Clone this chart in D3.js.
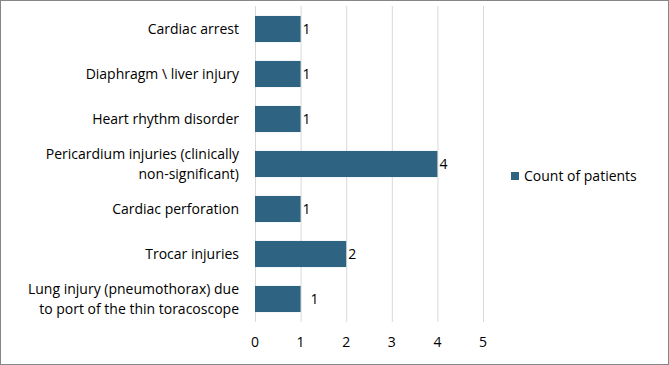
<!DOCTYPE html>
<html><head><meta charset="utf-8">
<script src="https://cdn.jsdelivr.net/npm/d3@7"></script>
<style>body{margin:0;background:#fff}svg{display:block}text{font-family:"Open Sans",sans-serif}</style>
</head><body><svg id="c" width="669" height="365"></svg>
<script>
const categories = [
  ["Cardiac arrest"],
  ["Diaphragm \\ liver injury"],
  ["Heart rhythm disorder"],
  ["Pericardium injuries (clinically","non-significant)"],
  ["Cardiac perforation"],
  ["Trocar injuries"],
  ["Lung injury (pneumothorax) due","to port of the thin toracoscope"]
];
const values = [1,1,1,4,1,2,1];
const xTicks = [0,1,2,3,4,5];
const seriesName = "Count of patients";

const svg = d3.select("#c");
const fs = 14;
svg.append("rect").attr("x",0.5).attr("y",0.5).attr("width",668).attr("height",364)
  .attr("fill","#fff").attr("stroke","#868686");

const x = d3.scaleLinear().domain([0,5]).range([255,483]);
const y = d3.scaleBand().domain(d3.range(categories.length)).range([6.5,321.5]).paddingInner(0.42).paddingOuter(0.21);

svg.append("g").selectAll("line").data(xTicks).join("line")
  .attr("x1",d=>x(d)+0.5).attr("x2",d=>x(d)+0.5).attr("y1",6).attr("y2",322)
  .attr("stroke","#d9d9d9").attr("stroke-width",1);

svg.append("g").selectAll("rect").data(values).join("rect")
  .attr("x",x(0)).attr("y",(d,i)=>y(i)).attr("width",d=>x(d)-x(0)).attr("height",y.bandwidth())
  .attr("fill","#2e6482");

svg.append("g").selectAll("text").data(values).join("text")
  .attr("x",(d,i)=> x(d)+ (i===6?10:2)).attr("y",(d,i)=>y(i)+y.bandwidth()/2+5)
  .attr("font-size",fs).attr("fill","#000").text(d=>d);

const lab = svg.append("g");
categories.forEach((lines,i)=>{
  const cy = y(i)+y.bandwidth()/2;
  const n = lines.length, lh = 19.5;
  lines.forEach((t,j)=>{
    lab.append("text").attr("x",239).attr("y",cy + (j-(n-1)/2)*lh + 5)
      .attr("text-anchor","end").attr("font-size",fs).attr("fill","#000").text(t);
  });
});

svg.append("g").selectAll("text").data(xTicks).join("text")
  .attr("x",d=>x(d)).attr("y",347).attr("text-anchor","middle")
  .attr("font-size",fs).attr("fill","#000").text(d=>d);

svg.append("rect").attr("x",511).attr("y",172).attr("width",8).attr("height",8).attr("fill","#2e6482");
svg.append("text").attr("x",524).attr("y",181).attr("font-size",fs).attr("fill","#000").text(seriesName);
</script></body></html>
